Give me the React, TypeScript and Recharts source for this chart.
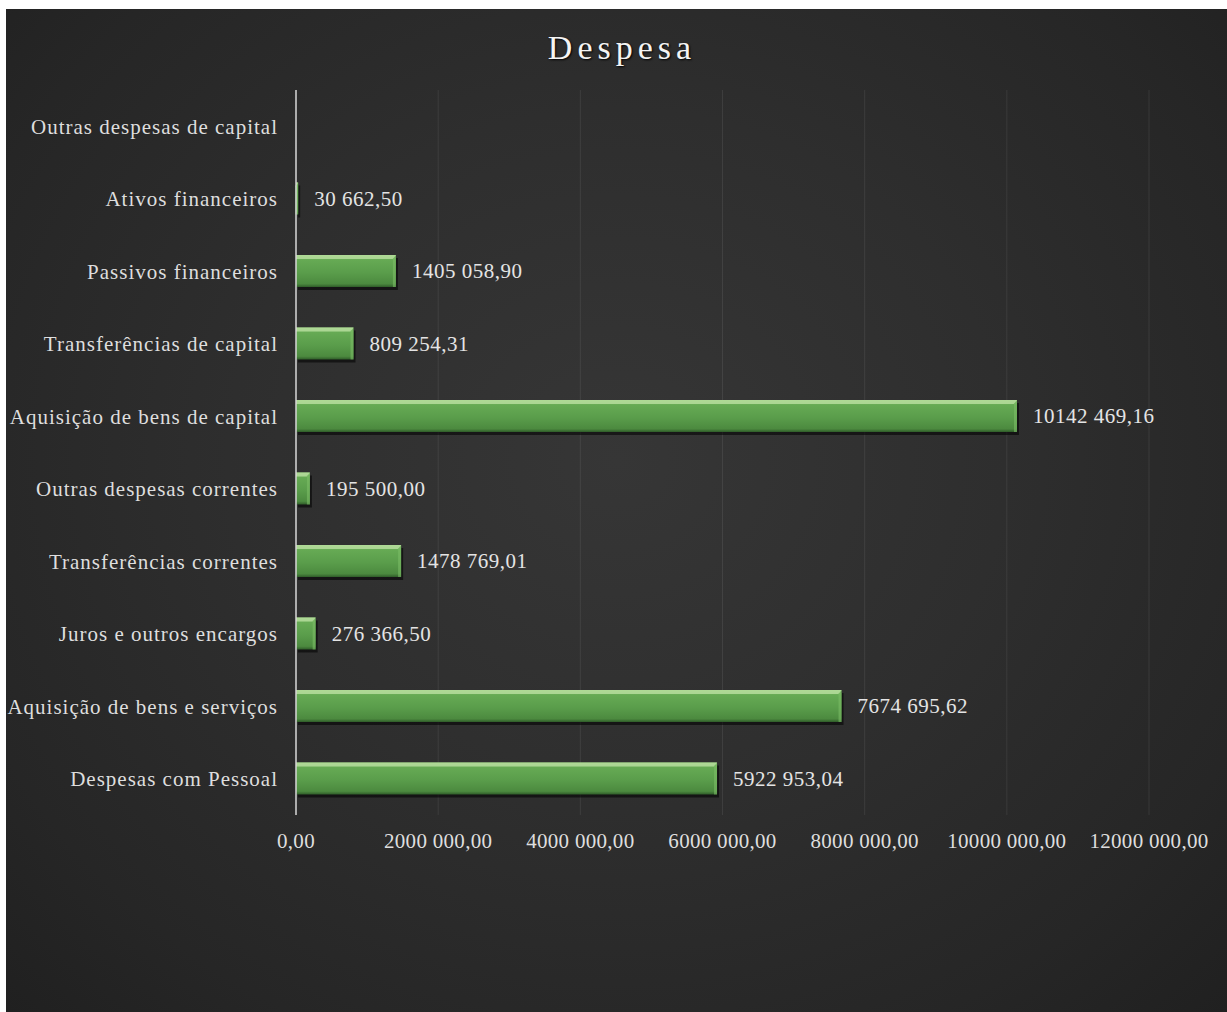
import React from "react";
import { BarChart, Bar, XAxis, YAxis, CartesianGrid, LabelList } from "recharts";

// categories top to bottom, as printed
const categories = [
  "Outras despesas de capital",
  "Ativos financeiros",
  "Passivos financeiros",
  "Transferências de capital",
  "Aquisição de bens de capital",
  "Outras despesas correntes",
  "Transferências correntes",
  "Juros e outros encargos",
  "Aquisição de bens e serviços",
  "Despesas com Pessoal",
];

const valores = [
  0, 30662.5, 1405058.9, 809254.31, 10142469.16, 195500.0, 1478769.01, 276366.5, 7674695.62,
  5922953.04,
];

const xTicks = [0, 2000000, 4000000, 6000000, 8000000, 10000000, 12000000];

const data = categories.map((name, i) => ({ name, valor: valores[i] }));

const FONT = "'Liberation Serif', 'Times New Roman', serif";

// "5922 953,04" style: only the thousands group is separated
const fmt = (v: number) => {
  const [int, dec] = v.toFixed(2).split(".");
  const head = int.length > 3 ? int.slice(0, int.length - 3) + " " + int.slice(-3) : int;
  return head + "," + dec;
};

const GreenBar = (props: any) => {
  const { x, y, width, height } = props;
  if (!width || width < 1) return null;
  return (
    <g>
      <rect x={x + 2} y={y + 3} width={width} height={height} fill="rgba(0,0,0,0.55)" />
      <rect x={x} y={y} width={width} height={height} fill="url(#barGrad)" />
      <polygon
        points={`${x},${y} ${x + width},${y} ${x + width - 3},${y + 4} ${x},${y + 4}`}
        fill="#b5dc9c"
        opacity={0.85}
      />
      <rect x={x + width - 3} y={y + 3} width={3} height={height - 3} fill="#7cbc66" opacity={0.6} />
    </g>
  );
};

const App = () => {
  return (
    <div
      style={{
        position: "absolute",
        left: 0,
        top: 0,
        width: 1227,
        height: 1012,
        background: "#ffffff",
        overflow: "hidden",
        fontFamily: FONT,
      }}
    >
      <div
        style={{
          position: "absolute",
          left: 6,
          top: 9,
          right: 0,
          bottom: 0,
          background:
            "radial-gradient(ellipse at 50% 45%, #363636 0%, #2e2e2e 45%, #262626 80%, #202020 100%)",
        }}
      />
      <div
        style={{
          position: "absolute",
          left: 0,
          top: 29,
          width: 1244,
          textAlign: "center",
          color: "#f4f4f4",
          fontSize: 34,
          letterSpacing: 5,
          textShadow: "1px 1px 2px #000",
        }}
      >
        Despesa
      </div>
      <div style={{ position: "absolute", left: 0, top: 0 }}>
        <BarChart
          width={1227}
          height={1012}
          data={data}
          layout="vertical"
          margin={{ top: 90, right: 78, bottom: 157, left: 6 }}
          barCategoryGap={0}
        >
          <defs>
            <linearGradient id="barGrad" x1="0" y1="0" x2="0" y2="1">
              <stop offset="0%" stopColor="#8cc872" />
              <stop offset="15%" stopColor="#66aa54" />
              <stop offset="55%" stopColor="#5a9d4b" />
              <stop offset="90%" stopColor="#4c8a3f" />
              <stop offset="100%" stopColor="#2f5c29" />
            </linearGradient>
          </defs>
          <CartesianGrid horizontal={false} stroke="rgba(255,255,255,0.08)" />
          <XAxis
            type="number"
            domain={[0, 12000000]}
            ticks={xTicks}
            tickFormatter={fmt}
            axisLine={false}
            tickLine={false}
            tickSize={0}
            tickMargin={18}
            height={40}
            interval={0}
            tick={{ fill: "#dedede", fontSize: 21, fontFamily: FONT, letterSpacing: 0.3 }}
          />
          <YAxis
            type="category"
            dataKey="name"
            width={290}
            tickLine={false}
            tickSize={0}
            tickMargin={18}
            axisLine={{ stroke: "#d6d6d6", strokeWidth: 1.5 }}
            interval={0}
            tick={{ fill: "#dedede", fontSize: 21, fontFamily: FONT, letterSpacing: 1 }}
          />
          <Bar dataKey="valor" barSize={32} shape={<GreenBar />} isAnimationActive={false}>
            <LabelList
              dataKey="valor"
              position="right"
              offset={16}
              formatter={(v: any) => (Number(v) > 0 ? fmt(Number(v)) : "")}
              style={{ fill: "#e4e4e4", fontSize: 21, fontFamily: FONT, letterSpacing: 0.5 }}
            />
          </Bar>
        </BarChart>
      </div>
    </div>
  );
};

export default App;
